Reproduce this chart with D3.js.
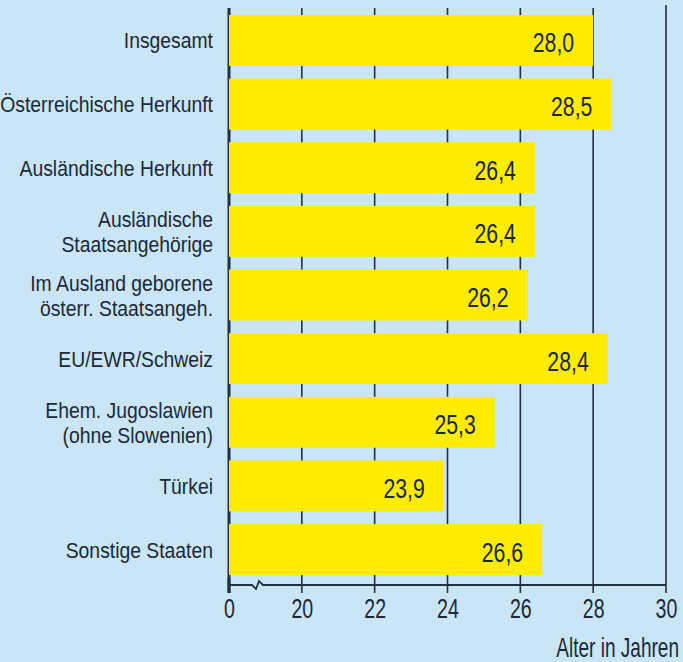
<!DOCTYPE html>
<html><head><meta charset="utf-8">
<script src="https://cdn.jsdelivr.net/npm/d3@7"></script>
<style>
html,body{margin:0;padding:0;background:#c9e5f6;}
svg{display:block;}
text{font-family:"Liberation Sans",Arial,sans-serif;fill:#1c2838;}
</style></head>
<body>
<script>
const categories = [
  ["Insgesamt"],
  ["Österreichische Herkunft"],
  ["Ausländische Herkunft"],
  ["Ausländische","Staatsangehörige"],
  ["Im Ausland geborene","österr. Staatsangeh."],
  ["EU/EWR/Schweiz"],
  ["Ehem. Jugoslawien","(ohne Slowenien)"],
  ["Türkei"],
  ["Sonstige Staaten"]
];
const values = [28.0, 28.5, 26.4, 26.4, 26.2, 28.4, 25.3, 23.9, 26.6];
const tickValues = [18, 20, 22, 24, 26, 28, 30];
const tickLabels = ["0", "20", "22", "24", "26", "28", "30"];
const axisTitle = "Alter in Jahren";

const W = 683, H = 662;
const svg = d3.select("body").append("svg").attr("width", W).attr("height", H);
svg.append("rect").attr("width", W).attr("height", H).attr("fill", "#c9e5f6");

const x = d3.scaleLinear().domain([18, 30]).range([229, 666]);
const y = d3.scaleBand().domain(d3.range(categories.length)).range([15, 575]).paddingInner(0.2).paddingOuter(0);
const axisY = 585;
const ink = "#223044";

// gridlines
svg.append("g").selectAll("line").data(tickValues.slice(1)).join("line")
  .attr("x1", d => x(d)).attr("x2", d => x(d))
  .attr("y1", d => d === 30 ? 5 : 8).attr("y2", axisY + 8)
  .attr("stroke", ink).attr("stroke-width", 1.6);
svg.append("line").attr("x1", x(18)).attr("x2", x(18)).attr("y1", 8).attr("y2", axisY + 8)
  .attr("stroke", ink).attr("stroke-width", 3);

// bars
svg.append("g").selectAll("rect").data(values).join("rect")
  .attr("x", x(18)).attr("y", (d, i) => y(i))
  .attr("width", d => x(d) - x(18)).attr("height", y.bandwidth())
  .attr("fill", "#ffec00");

// value labels
svg.append("g").selectAll("text").data(values).join("text")
  .attr("transform", (d, i) => `translate(${x(d) - 19},${y(i) + y.bandwidth() / 2 + 12}) scale(0.76,1)`)
  .attr("text-anchor", "end").style("font-size", "28px")
  .text(d => d.toFixed(1).replace(".", ","));

// category labels
const cl = svg.append("g").selectAll("text").data(categories).join("text")
  .attr("text-anchor", "end").style("font-size", "21.5px")
  .attr("transform", (d, i) => `translate(213,${y(i) + y.bandwidth() / 2 + (d.length === 1 ? 8 : -4)}) scale(0.9,1)`);
cl.selectAll("tspan").data(d => d).join("tspan")
  .attr("x", 0).attr("dy", (d, j) => j === 0 ? 0 : 25).text(d => d);

// axis
const axis = d3.axisBottom(x).tickValues(tickValues).tickSize(0).tickFormat((d, i) => tickLabels[i]);
const ag = svg.append("g").attr("transform", `translate(0,${axisY})`).call(axis);
ag.select(".domain").remove();
ag.selectAll(".tick text").attr("dy", 0).attr("y", 0)
  .attr("transform", "translate(0,33) scale(0.7,1)")
  .style("font-size", "28px").attr("fill", "#1c2838");

// axis line with break
const xs = x(18);
const brk = d3.line()([[xs, 0], [xs + 23, 0], [xs + 27, 4], [xs + 30, -4], [xs + 34, 0], [x(30), 0]]);
ag.append("path").attr("d", brk).attr("fill", "none").attr("stroke", ink).attr("stroke-width", 1.8);
ag.append("line").attr("x1", xs).attr("x2", xs).attr("y1", -7).attr("y2", 8).attr("stroke", ink).attr("stroke-width", 3);

svg.append("text").attr("text-anchor", "end")
  .attr("transform", "translate(679,657) scale(0.68,1)")
  .style("font-size", "28px").text(axisTitle);
</script>
</body></html>
